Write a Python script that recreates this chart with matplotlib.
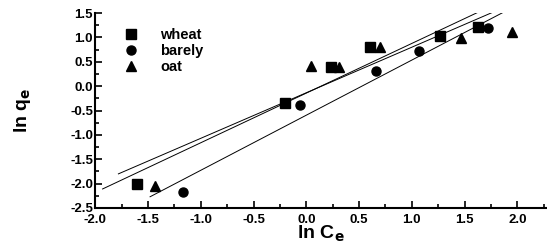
import matplotlib.pyplot as plt
from matplotlib.ticker import MultipleLocator

plt.rcParams['font.family'] = ['Liberation Sans', 'DejaVu Sans']
plt.rcParams['font.weight'] = 'bold'
plt.rcParams['mathtext.default'] = 'bf'

# data
wheat_x = [-1.60, -0.20, 0.23, 0.60, 1.27, 1.63]
wheat_y = [-2.00, -0.35, 0.39, 0.80, 1.03, 1.21]

barely_x = [-1.17, -0.06, 0.66, 1.07, 1.72]
barely_y = [-2.17, -0.38, 0.31, 0.72, 1.19]

oat_x = [-1.43, 0.04, 0.31, 0.70, 1.47, 1.95]
oat_y = [-2.05, 0.42, 0.39, 0.80, 0.99, 1.12]

# fitted lines (end points)
fit_a_x = [-1.78, 1.77]
fit_a_y = [-1.80, 1.52]
fit_b_x = [-1.93, 1.63]
fit_b_y = [-2.11, 1.52]
fit_c_x = [-1.48, 1.87]
fit_c_y = [-2.27, 1.52]

fig = plt.figure(figsize=(5.47, 2.47), dpi=100)
ax = fig.add_axes([0.174, 0.158, 0.824, 0.789])

ax.plot(wheat_x, wheat_y, 's', color='black', ms=6.5, label='wheat')
ax.plot(barely_x, barely_y, 'o', color='black', ms=6.5, label='barely')
ax.plot(oat_x, oat_y, '^', color='black', ms=7, label='oat')

for fx, fy in [(fit_a_x, fit_a_y), (fit_b_x, fit_b_y), (fit_c_x, fit_c_y)]:
    ax.plot(fx, fy, '-', color='black', lw=0.7)

ax.set_xlim(-2.0, 2.27)
ax.set_ylim(-2.5, 1.5)
ax.xaxis.set_major_locator(MultipleLocator(0.5))
ax.xaxis.set_minor_locator(MultipleLocator(0.25))
ax.yaxis.set_major_locator(MultipleLocator(0.5))
ax.yaxis.set_minor_locator(MultipleLocator(0.25))
ax.xaxis.set_major_formatter(plt.FormatStrFormatter('%.1f'))
ax.yaxis.set_major_formatter(plt.FormatStrFormatter('%.1f'))
ax.tick_params(which='both', direction='in', labelsize=9.5, width=1.2)
ax.tick_params(which='major', length=5, pad=1.5)
ax.tick_params(axis='x', which='major', pad=4)
ax.tick_params(which='minor', length=3)

ax.spines['top'].set_visible(False)
ax.spines['right'].set_visible(False)
ax.spines['left'].set_linewidth(1.5)
ax.spines['bottom'].set_linewidth(1.5)

ax.set_xlabel(r'ln C$_\mathbf{e}$', fontsize=14, fontweight='bold', labelpad=-1)
ax.set_ylabel(r'ln q$_\mathbf{e}$', fontsize=14, fontweight='bold', labelpad=27)

ax.legend(loc='upper left', frameon=False, fontsize=10.5, handletextpad=1.0,
          labelspacing=0.15, bbox_to_anchor=(0.035, 0.955), borderaxespad=0)

fig.canvas.draw()
plt.setp(ax.get_xticklabels() + ax.get_yticklabels(), fontweight='bold')

fig.savefig('out.png', dpi=100)
